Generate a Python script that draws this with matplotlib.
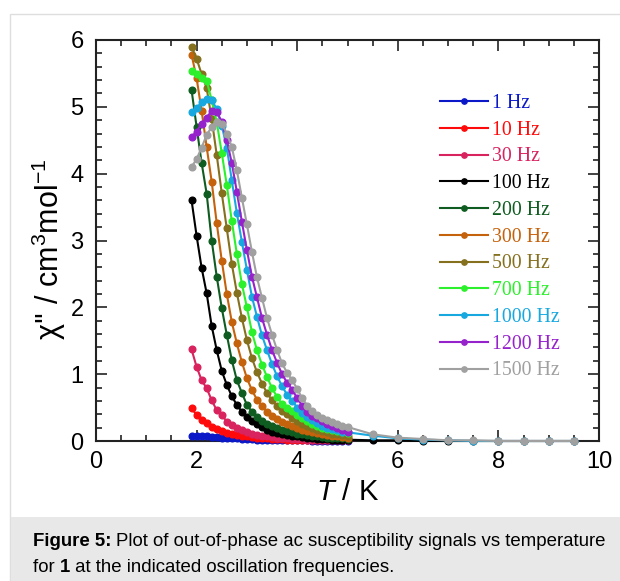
import matplotlib
matplotlib.use("Agg")
import matplotlib.pyplot as plt
from matplotlib.patches import Rectangle
from matplotlib.ticker import MultipleLocator

plt.rcParams['mathtext.fontset'] = 'custom'
plt.rcParams['mathtext.rm'] = 'Liberation Sans'
plt.rcParams['mathtext.it'] = 'Liberation Sans:italic'
plt.rcParams['font.family'] = ['Liberation Sans', 'DejaVu Sans']

# ---- data ----
T = [1.9, 2.0, 2.1, 2.2, 2.3, 2.4, 2.5, 2.6, 2.7, 2.8, 2.9, 3.0, 3.1, 3.2, 3.3, 3.4,
     3.5, 3.6, 3.7, 3.8, 3.9, 4.0, 4.1, 4.2, 4.3, 4.4, 4.5, 4.6, 4.7, 4.8, 4.9, 5.0]
T_tail = [5.5, 6.0, 6.5, 7.0, 7.5, 8.0, 8.5, 9.0, 9.5]

labels = ['1 Hz', '10 Hz', '30 Hz', '100 Hz', '200 Hz', '300 Hz', '500 Hz',
          '700 Hz', '1000 Hz', '1200 Hz', '1500 Hz']
colors = ['#0a18c8', '#ff0a0a', '#d8235e', '#000000', '#0f5c20', '#c5620c',
          '#85701e', '#2cf02c', '#18a8e0', '#9622cc', '#a0a0a0']

chi_1 = [0.08, 0.08, 0.07, 0.07, 0.06, 0.06, 0.05, 0.05, 0.04, 0.04, 0.03, 0.03, 0.03, 0.02, 0.02, 0.02,
         0.02, 0.01, 0.01, 0.01, 0.01, 0.01, 0.01, 0.01, 0.00, 0.00, 0.00, 0.00, 0.00, 0.00, 0.00, 0.00]
chi_10 = [0.49, 0.39, 0.31, 0.27, 0.21, 0.18, 0.15, 0.12, 0.10, 0.09, 0.08, 0.07, 0.06, 0.05, 0.04, 0.04,
          0.03, 0.03, 0.03, 0.02, 0.02, 0.02, 0.02, 0.01, 0.01, 0.01, 0.01, 0.01, 0.01, 0.01, 0.01, 0.01]
chi_30 = [1.37, 1.11, 0.91, 0.79, 0.61, 0.46, 0.39, 0.29, 0.24, 0.20, 0.16, 0.13, 0.11, 0.09, 0.08, 0.07,
          0.06, 0.05, 0.04, 0.04, 0.03, 0.03, 0.03, 0.02, 0.02, 0.02, 0.02, 0.01, 0.01, 0.01, 0.01, 0.01]
chi_100 = [3.60, 3.07, 2.59, 2.21, 1.72, 1.36, 1.05, 0.84, 0.67, 0.54, 0.44, 0.36, 0.30, 0.25, 0.21, 0.17,
           0.14, 0.12, 0.10, 0.09, 0.08, 0.07, 0.06, 0.05, 0.04, 0.03, 0.03, 0.03, 0.02, 0.02, 0.02, 0.02]
chi_200 = [5.25, 4.70, 4.16, 3.70, 3.00, 2.46, 1.99, 1.59, 1.21, 0.91, 0.72, 0.54, 0.44, 0.36, 0.30, 0.25,
           0.22, 0.19, 0.17, 0.15, 0.13, 0.11, 0.10, 0.09, 0.08, 0.07, 0.06, 0.05, 0.05, 0.04, 0.04, 0.03]
chi_300 = [5.78, 5.43, 4.94, 4.40, 3.88, 3.26, 2.70, 2.20, 1.78, 1.46, 1.18, 0.94, 0.76, 0.62, 0.52, 0.44,
           0.38, 0.33, 0.29, 0.26, 0.23, 0.20, 0.17, 0.15, 0.13, 0.12, 0.10, 0.09, 0.08, 0.07, 0.06, 0.05]
chi_500 = [5.90, 5.72, 5.49, 5.28, 4.82, 4.28, 3.71, 3.18, 2.65, 2.22, 1.84, 1.51, 1.24, 1.03, 0.86, 0.72,
           0.61, 0.52, 0.45, 0.40, 0.35, 0.30, 0.26, 0.22, 0.19, 0.17, 0.15, 0.13, 0.11, 0.10, 0.09, 0.08]
chi_700 = [5.53, 5.49, 5.43, 5.39, 5.10, 4.77, 4.31, 3.83, 3.29, 2.80, 2.35, 2.00, 1.63, 1.36, 1.14, 0.96,
           0.79, 0.66, 0.55, 0.50, 0.45, 0.39, 0.34, 0.30, 0.26, 0.23, 0.20, 0.18, 0.16, 0.15, 0.13, 0.12]
chi_1000 = [4.92, 4.98, 5.07, 5.12, 5.10, 4.97, 4.72, 4.39, 3.90, 3.41, 2.98, 2.56, 2.16, 1.86, 1.58, 1.36,
            1.15, 0.97, 0.82, 0.69, 0.60, 0.50, 0.42, 0.36, 0.31, 0.27, 0.23, 0.20, 0.18, 0.16, 0.14, 0.13]
chi_1200 = [4.55, 4.63, 4.75, 4.84, 4.94, 4.92, 4.78, 4.50, 4.16, 3.73, 3.28, 2.86, 2.46, 2.15, 1.84, 1.59,
            1.36, 1.17, 1.00, 0.87, 0.77, 0.64, 0.53, 0.44, 0.38, 0.34, 0.30, 0.26, 0.22, 0.19, 0.16, 0.14]
chi_1500 = [4.10, 4.22, 4.39, 4.58, 4.70, 4.78, 4.75, 4.60, 4.40, 4.05, 3.64, 3.24, 2.83, 2.45, 2.14, 1.84,
            1.59, 1.36, 1.16, 1.02, 0.91, 0.78, 0.64, 0.53, 0.45, 0.39, 0.35, 0.31, 0.28, 0.25, 0.23, 0.21]

tail_100 = [0.01, 0.01, 0.00, 0.00, 0.00, 0.00, 0.00, 0.00, 0.00]
tail_1000 = [0.08, 0.04, 0.02, 0.01, 0.00, 0.00, 0.00, 0.00, 0.00]
tail_1500 = [0.10, 0.05, 0.03, 0.01, 0.01, 0.00, 0.00, 0.00, 0.00]

series = [chi_1, chi_10, chi_30, chi_100 + tail_100, chi_200, chi_300, chi_500,
          chi_700, chi_1000 + tail_1000, chi_1200, chi_1500 + tail_1500]

# ---- figure ----
fig = plt.figure(figsize=(6.20, 5.81), dpi=100)
W, H = 620, 581
# outer frame and caption box
fig.patches.append(Rectangle((10 / W, -0.01), 1.0, (581 - 14) / H + 0.01, transform=fig.transFigure,
                             facecolor='white', edgecolor='#dedede', lw=1.0, zorder=-10))
fig.patches.append(Rectangle((10.5 / W, 0), 1.0, (581 - 517) / H, transform=fig.transFigure,
                             facecolor='#e8e8e8', edgecolor='none', zorder=-9))

ax = fig.add_axes([96 / W, 1 - 441 / H, (599 - 96) / W, (441 - 40) / H])
ax.set_facecolor('none')

for lab, col, vals in zip(labels, colors, series):
    x = T + T_tail if len(vals) > len(T) else T
    ax.plot(x, vals, '-o', color=col, lw=1.5, ms=4.8, label=lab, clip_on=False, zorder=3)

ax.set_xlim(0, 10)
ax.set_ylim(0, 6)
ax.xaxis.set_major_locator(MultipleLocator(2))
ax.xaxis.set_minor_locator(MultipleLocator(0.5))
ax.yaxis.set_major_locator(MultipleLocator(1))
ax.yaxis.set_minor_locator(MultipleLocator(0.2))
ax.tick_params(which='both', direction='in', top=True, right=True, width=1.2, colors='#222222',
               labelcolor='black')
ax.tick_params(which='major', length=8, labelsize=17)
ax.tick_params(axis='y', which='major', pad=9)
ax.tick_params(axis='x', which='major', pad=7)
ax.tick_params(which='minor', length=4)
for s in ax.spines.values():
    s.set_linewidth(1.5)
    s.set_color('#222222')

ax.set_xlabel('$T$ / K', fontsize=21, labelpad=4)
ax.set_ylabel("χ'' / cm$^{3}$mol$^{-1}$", fontsize=22)
ax.yaxis.set_label_coords(-0.056, 0.478)

leg = ax.legend(loc='upper left', bbox_to_anchor=((440 - 96) / 503, (441 - 94) / 401),
                frameon=False, prop={'family': 'Liberation Serif', 'size': 14.3},
                handlelength=2.4, handletextpad=0.2, labelspacing=0.39, borderpad=0,
                borderaxespad=0, markerscale=0.8)
for txt, col in zip(leg.get_texts(), colors):
    txt.set_color(col)

CAP = 13.4
t1 = fig.text(33 / W, 1 - 541 / H, 'Figure 5:', fontsize=CAP, va='center', ha='left',
              fontweight='bold')
fig.canvas.draw()
bb = t1.get_window_extent()
fig.text(bb.x1 / W + 4 / W, 1 - 541 / H,
         'Plot of out-of-phase ac susceptibility signals vs temperature',
         fontsize=CAP, va='center', ha='left')
t2 = fig.text(33 / W, 1 - 567 / H, 'for ', fontsize=CAP, va='center', ha='left')
bb2 = t2.get_window_extent()
t3 = fig.text(bb2.x1 / W, 1 - 567 / H, '1', fontsize=CAP, va='center', ha='left',
              fontweight='bold')
bb3 = t3.get_window_extent()
fig.text(bb3.x1 / W, 1 - 567 / H, ' at the indicated oscillation frequencies.',
         fontsize=CAP, va='center', ha='left')

fig.savefig('out.png', dpi=100)
